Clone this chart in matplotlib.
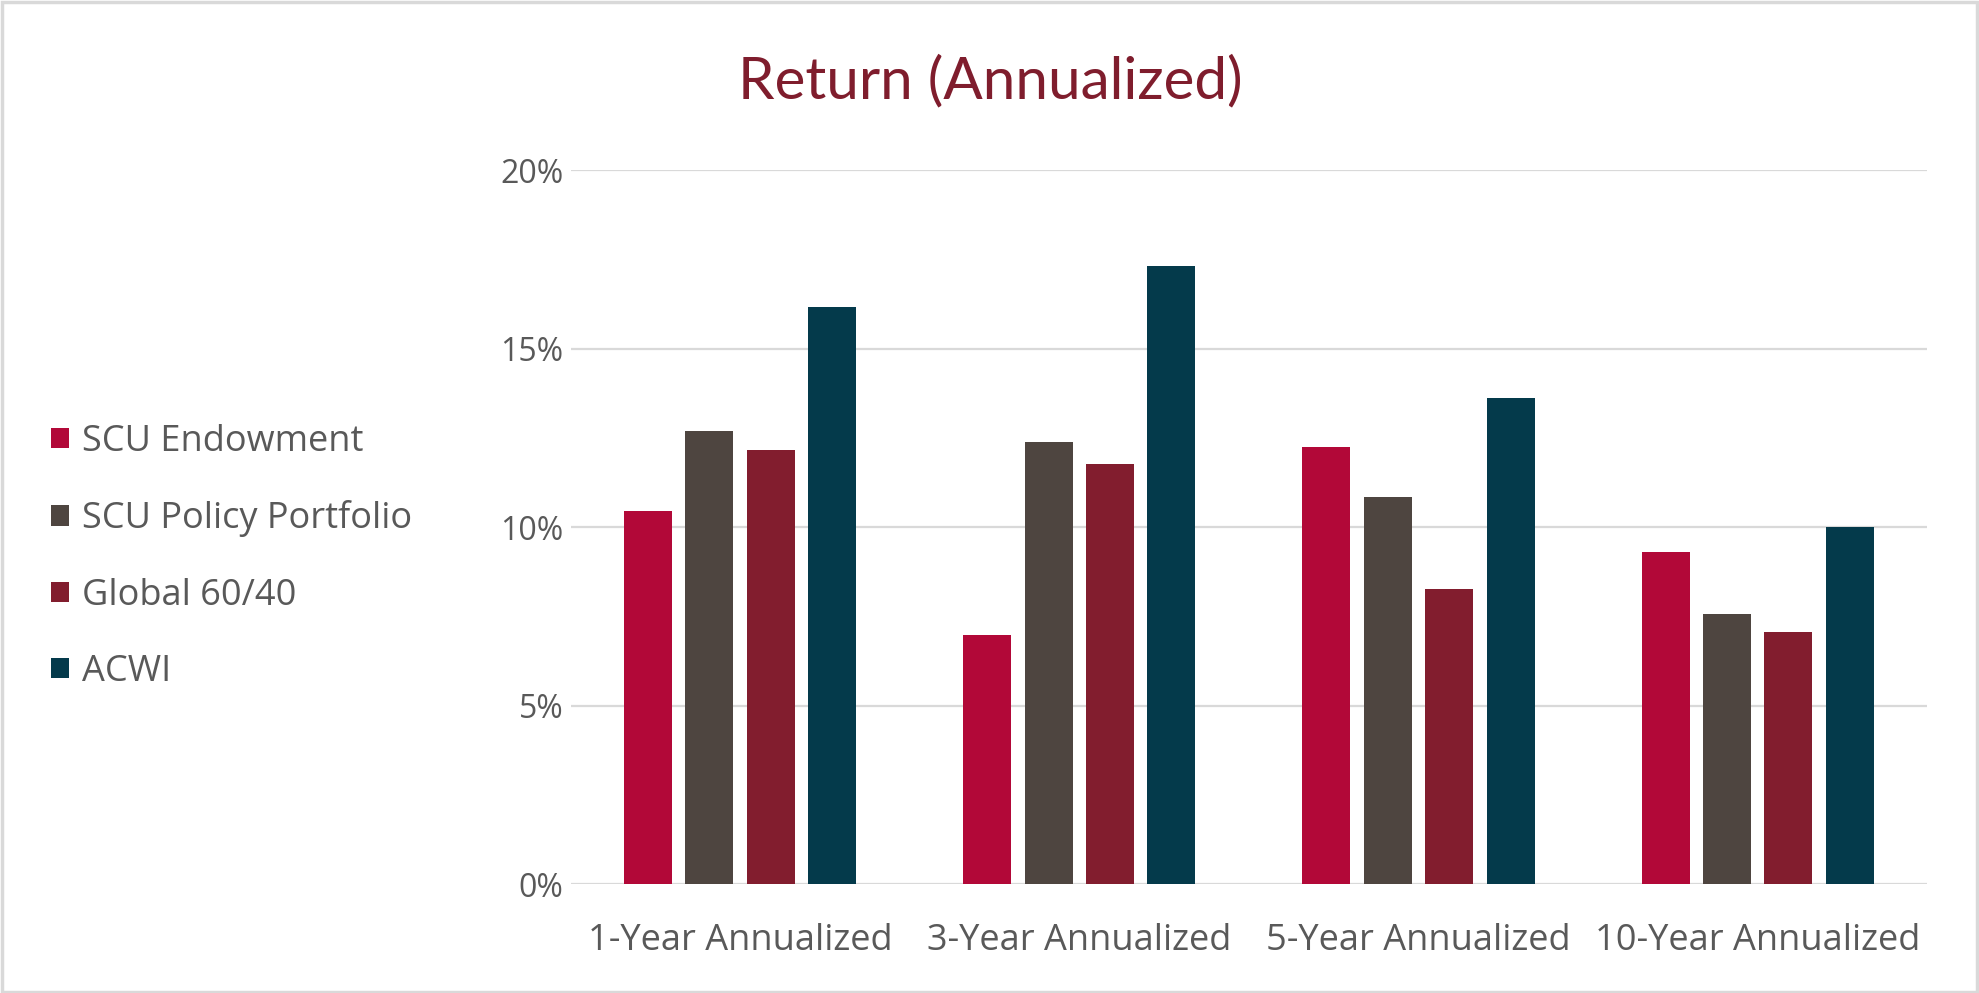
import matplotlib

matplotlib.use("Agg")
import matplotlib.pyplot as plt
import numpy as np
from matplotlib.patches import Rectangle

plt.rcParams["font.family"] = ["Open Sans", "DejaVu Sans"]

# --- data (percent)
periods = ["1-Year Annualized", "3-Year Annualized", "5-Year Annualized", "10-Year Annualized"]
series = ["SCU Endowment", "SCU Policy Portfolio", "Global 60/40", "ACWI"]
endowment = [10.46, 7.0, 12.26, 9.30]
policy = [12.69, 12.40, 10.86, 7.57]
global_6040 = [12.16, 11.78, 8.28, 7.08]
acwi = [16.16, 17.32, 13.62, 10.0]
yticks = [0, 5, 10, 15, 20]

colors = ["#B20838", "#4E4540", "#821D2E", "#043A4B"]
GRAY = "#595959"

fig = plt.figure(figsize=(19.79, 9.93), dpi=100)
ax = fig.add_axes([0.2883, 0.1093, 0.6856, 0.7192])

x = np.arange(len(periods))
width = 0.1414
step = 0.181
handles = []
for i, (vals, name, c) in enumerate(zip([endowment, policy, global_6040, acwi], series, colors)):
    h = ax.bar(x + (i - 1.5) * step, vals, width, color=c, label=name, zorder=3)
    handles.append(h)

ax.set_xlim(-0.5, len(periods) - 0.5)
ax.set_ylim(0, 20)
ax.set_yticks(yticks)
ax.set_yticklabels([f"{v}%" for v in yticks])
ax.set_xticks(x)
ax.set_xticklabels(periods)
ax.tick_params(length=0, colors=GRAY)
ax.tick_params(axis="y", pad=5, labelsize=23)
ax.tick_params(axis="x", pad=28, labelsize=26)
ax.grid(axis="y", color="#D9D9D9", lw=1.6, zorder=0)
for s in ax.spines.values():
    s.set_visible(False)

fig.text(0.5006, 0.918, "Return (Annualized)", ha="center", va="center",
         fontsize=42, color="#7F1D2D", family=["Lato", "DejaVu Sans"])

leg = fig.legend(handles=handles, loc="upper left", bbox_to_anchor=(0.0095, 0.606),
                 frameon=False, fontsize=26, labelcolor=GRAY, handlelength=0.49,
                 handleheight=0.49, handletextpad=0.36, labelspacing=1.12)

fig.add_artist(Rectangle((0.001, 0.001), 0.998, 0.997, transform=fig.transFigure,
                         fill=False, edgecolor="#D9D9D9", lw=2.5))

fig.savefig("out.png", dpi=100)
